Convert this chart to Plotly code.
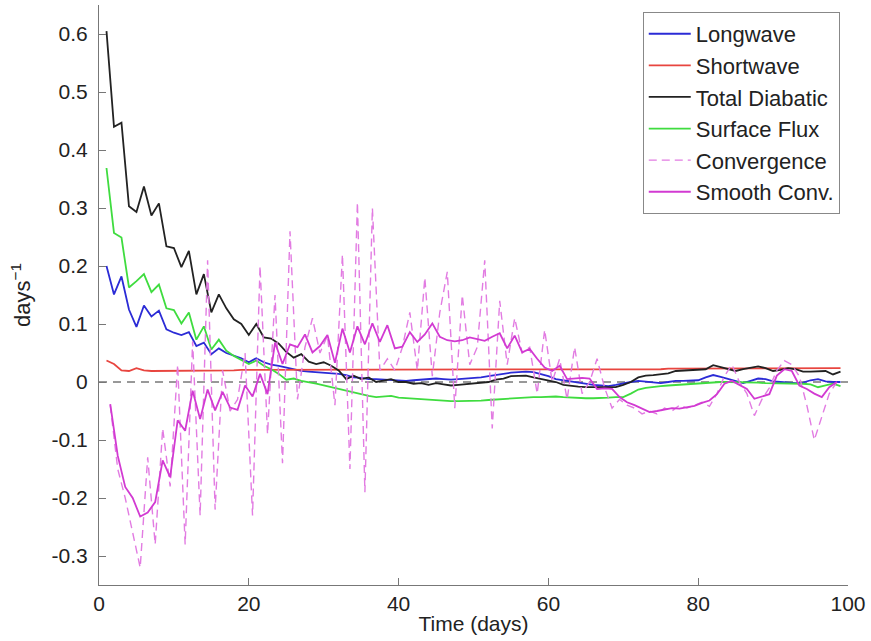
import plotly.graph_objects as go

# Daily time axis (days) for the radiative / surface / total series
t_day = list(range(1, 100))
# Convergence terms are defined at half-day points
t_half = [k + 0.5 for k in range(1, 99)]

longwave = [0.200, 0.151, 0.182, 0.125, 0.095, 0.132, 0.113, 0.123, 0.091, 0.085,
            0.081, 0.086, 0.062, 0.068, 0.048, 0.058, 0.050, 0.046, 0.041, 0.034,
            0.041, 0.034, 0.030, 0.028, 0.025, 0.022, 0.019, 0.018, 0.017, 0.017,
            0.016, 0.014, 0.012, 0.008, 0.007, 0.005, 0.005, 0.004, 0.003, 0.002,
            0.002, 0.003, 0.004, 0.005, 0.006, 0.005, 0.004, 0.005, 0.006, 0.006,
            0.008, 0.010, 0.012, 0.015, 0.016, 0.017, 0.018, 0.017, 0.014, 0.010,
            0.005, 0.003, 0.000, -0.002, -0.004, -0.005, -0.006, -0.007, -0.005, -0.002,
            0.000, 0.002, 0.001, -0.001, -0.002, 0.000, 0.002, 0.002, 0.002, 0.003,
            0.008, 0.012, 0.009, 0.005, 0.001, -0.002, 0.002, 0.006, 0.005, 0.001,
            0.000, -0.001, -0.002, -0.001, 0.003, 0.005, 0.001, 0.000, 0.000]

shortwave = [0.037, 0.031, 0.020, 0.019, 0.024, 0.020, 0.019, 0.019, 0.019, 0.020,
             0.019, 0.020, 0.019, 0.020, 0.020, 0.020, 0.020, 0.020, 0.021, 0.021,
             0.021, 0.021, 0.021, 0.021, 0.021, 0.021, 0.021, 0.021, 0.021, 0.021,
             0.022, 0.022, 0.022, 0.022, 0.022, 0.022, 0.022, 0.022, 0.022, 0.022,
             0.022, 0.022, 0.022, 0.022, 0.022, 0.022, 0.022, 0.022, 0.022, 0.022,
             0.022, 0.022, 0.022, 0.022, 0.022, 0.022, 0.022, 0.022, 0.022, 0.022,
             0.022, 0.022, 0.022, 0.022, 0.022, 0.022, 0.022, 0.022, 0.022, 0.022,
             0.022, 0.022, 0.022, 0.022, 0.022, 0.023, 0.023, 0.023, 0.023, 0.023,
             0.023, 0.023, 0.023, 0.023, 0.023, 0.023, 0.023, 0.023, 0.023, 0.023,
             0.023, 0.023, 0.023, 0.023, 0.023, 0.024, 0.024, 0.024, 0.024]

total_diabatic = [0.605, 0.440, 0.447, 0.303, 0.293, 0.337, 0.287, 0.308, 0.234, 0.231,
                  0.198, 0.226, 0.151, 0.186, 0.120, 0.151, 0.127, 0.108, 0.100, 0.081,
                  0.100, 0.077, 0.075, 0.066, 0.052, 0.042, 0.048, 0.035, 0.031, 0.034,
                  0.028, 0.020, 0.005, 0.011, 0.005, 0.008, 0.000, 0.002, 0.005, 0.000,
                  0.000, -0.003, -0.002, -0.005, -0.002, -0.004, -0.006, -0.005, -0.004, -0.003,
                  -0.001, 0.000, 0.004, 0.006, 0.010, 0.011, 0.011, 0.008, 0.005, 0.002,
                  0.000, -0.005, -0.007, -0.008, -0.009, -0.009, -0.010, -0.009, -0.009, -0.005,
                  0.000, 0.008, 0.011, 0.012, 0.014, 0.015, 0.019, 0.020, 0.021, 0.021,
                  0.022, 0.029, 0.026, 0.022, 0.019, 0.022, 0.025, 0.027, 0.024, 0.019,
                  0.021, 0.024, 0.022, 0.018, 0.018, 0.019, 0.019, 0.013, 0.018]

surface_flux = [0.369, 0.257, 0.249, 0.163, 0.174, 0.186, 0.155, 0.168, 0.127, 0.124,
                0.101, 0.120, 0.073, 0.096, 0.056, 0.073, 0.054, 0.045, 0.038, 0.031,
                0.037, 0.028, 0.022, 0.014, 0.004, 0.006, 0.002, 0.000, -0.003, -0.006,
                -0.009, -0.012, -0.016, -0.019, -0.022, -0.024, -0.026, -0.025, -0.024, -0.027,
                -0.028, -0.029, -0.029, -0.030, -0.031, -0.032, -0.033, -0.033, -0.033, -0.033,
                -0.032, -0.031, -0.030, -0.029, -0.028, -0.027, -0.027, -0.026, -0.026, -0.025,
                -0.025, -0.026, -0.027, -0.027, -0.028, -0.028, -0.028, -0.027, -0.026, -0.026,
                -0.020, -0.013, -0.010, -0.008, -0.007, -0.006, -0.005, -0.004, -0.003, -0.002,
                -0.001, -0.001, 0.000, 0.000, 0.000, -0.001, -0.001, -0.001, -0.002, -0.002,
                -0.002, -0.002, -0.003, -0.003, -0.004, -0.009, -0.006, -0.003, -0.007]

convergence = [-0.04, -0.15, -0.20, -0.26, -0.32, -0.13, -0.28, -0.08, -0.18, 0.03,
               -0.28, 0.07, -0.23, 0.21, -0.22, 0.02, -0.05, -0.03, 0.05, -0.23,
               0.20, -0.09, 0.15, -0.14, 0.26, -0.03, 0.06, 0.11, 0.05, 0.08,
               -0.04, 0.22, -0.15, 0.31, -0.19, 0.30, 0.02, 0.04, 0.02, 0.06,
               0.12, 0.02, 0.18, 0.01, 0.12, 0.19, -0.045, 0.15, 0.03, 0.06,
               0.21, -0.08, 0.14, 0.03, 0.11, 0.05, 0.06, -0.02, 0.09, 0.00,
               0.04, -0.03, 0.06, -0.02, 0.00, 0.04, -0.01, -0.045, -0.03, -0.04,
               -0.045, -0.055, -0.05, -0.055, -0.045, -0.05, -0.04, -0.045, -0.04, -0.035,
               -0.042, -0.02, 0.01, 0.03, 0.00, -0.02, -0.058, -0.03, -0.01, 0.02,
               0.037, 0.03, 0.01, -0.04, -0.10, -0.06, -0.02, 0.00]

smooth_conv = [-0.038, -0.127, -0.181, -0.200, -0.232, -0.225, -0.207, -0.135, -0.164, -0.066,
               -0.084, -0.015, -0.064, -0.013, -0.049, -0.017, -0.044, -0.048, -0.006, -0.025,
               0.014, -0.021, 0.068, 0.031, 0.065, 0.060, 0.082, 0.051, 0.062, 0.081,
               0.033, 0.092, 0.051, 0.096, 0.065, 0.101, 0.069, 0.098, 0.058, 0.061,
               0.086, 0.069, 0.082, 0.101, 0.078, 0.072, 0.070, 0.072, 0.077, 0.074,
               0.071, 0.078, 0.084, 0.058, 0.080, 0.051, 0.057, 0.040, 0.025, 0.019,
               0.028, 0.005, 0.006, 0.007, 0.006, -0.012, -0.011, -0.012, -0.026, -0.035,
               -0.040, -0.046, -0.052, -0.050, -0.048, -0.045, -0.046, -0.043, -0.041, -0.036,
               -0.032, -0.021, -0.003, 0.002, -0.005, -0.012, -0.029, -0.025, -0.021, 0.011,
               0.022, 0.019, -0.006, -0.012, -0.020, -0.026, -0.009, 0.000]

y_ticks = [-0.3, -0.2, -0.1, 0, 0.1, 0.2, 0.3, 0.4, 0.5, 0.6]
y_ticktext = ["-0.3", "-0.2", "-0.1", "0", "0.1", "0.2", "0.3", "0.4", "0.5", "0.6"]
x_ticks = [0, 20, 40, 60, 80, 100]
zero_x = [0, 100]
zero_y = [0, 0]

FONT = "Liberation Sans, Arial, sans-serif"

fig = go.Figure()

fig.add_trace(go.Scatter(x=zero_x, y=zero_y, mode="lines", showlegend=False,
                         line=dict(color="#333333", width=1, dash="8px,6px"),
                         hoverinfo="skip"))

fig.add_trace(go.Scatter(x=t_day, y=longwave, mode="lines", name="Longwave",
                         line=dict(color="#2b2bd6", width=1.8)))
fig.add_trace(go.Scatter(x=t_day, y=shortwave, mode="lines", name="Shortwave",
                         line=dict(color="#e8453f", width=1.8)))
fig.add_trace(go.Scatter(x=t_day, y=total_diabatic, mode="lines", name="Total Diabatic",
                         line=dict(color="#222222", width=1.8)))
fig.add_trace(go.Scatter(x=t_day, y=surface_flux, mode="lines", name="Surface Flux",
                         line=dict(color="#3fdc3f", width=1.8)))
fig.add_trace(go.Scatter(x=t_half, y=convergence, mode="lines", name="Convergence",
                         line=dict(color="#e27ce2", width=1.4, dash="8px,5px")))
fig.add_trace(go.Scatter(x=t_half, y=smooth_conv, mode="lines", name="Smooth Conv.",
                         line=dict(color="#d23ad2", width=1.8)))

fig.update_layout(
    width=871, height=641,
    margin=dict(l=99, r=23, t=5, b=56),
    paper_bgcolor="white", plot_bgcolor="white",
    font=dict(family=FONT, size=21, color="#222222"),
    showlegend=True,
    legend=dict(x=0.989, y=0.988, xanchor="right", yanchor="top",
                bgcolor="white", bordercolor="#888888", borderwidth=1,
                itemwidth=42,
                font=dict(family=FONT, size=22, color="#222222"),
                tracegroupgap=0),
    xaxis=dict(range=[0, 100], tickvals=x_ticks, ticks="inside", ticklen=7,
               tickcolor="#777777", showline=True, linecolor="#777777", linewidth=1,
               showgrid=False, zeroline=False, mirror=False, automargin=False,
               tickfont=dict(family=FONT, size=21, color="#222222"),
               title=dict(text="Time (days)", standoff=2,
                          font=dict(family=FONT, size=21, color="#222222"))),
    yaxis=dict(range=[-0.35, 0.65], tickvals=y_ticks, ticktext=y_ticktext,
               ticks="inside", ticklen=7, tickcolor="#777777",
               showline=True, linecolor="#777777", linewidth=1,
               showgrid=False, zeroline=False, mirror=False, automargin=False,
               ticklabelstandoff=6,
               tickfont=dict(family=FONT, size=21, color="#222222"),
               title=dict(text="days<sup>−1</sup>", standoff=14,
                          font=dict(family=FONT, size=22, color="#222222"))),
)

fig.write_html("out.html",
               config={"displayModeBar": False},
               post_script="document.body.style.margin='0';document.body.style.overflow='hidden';")
